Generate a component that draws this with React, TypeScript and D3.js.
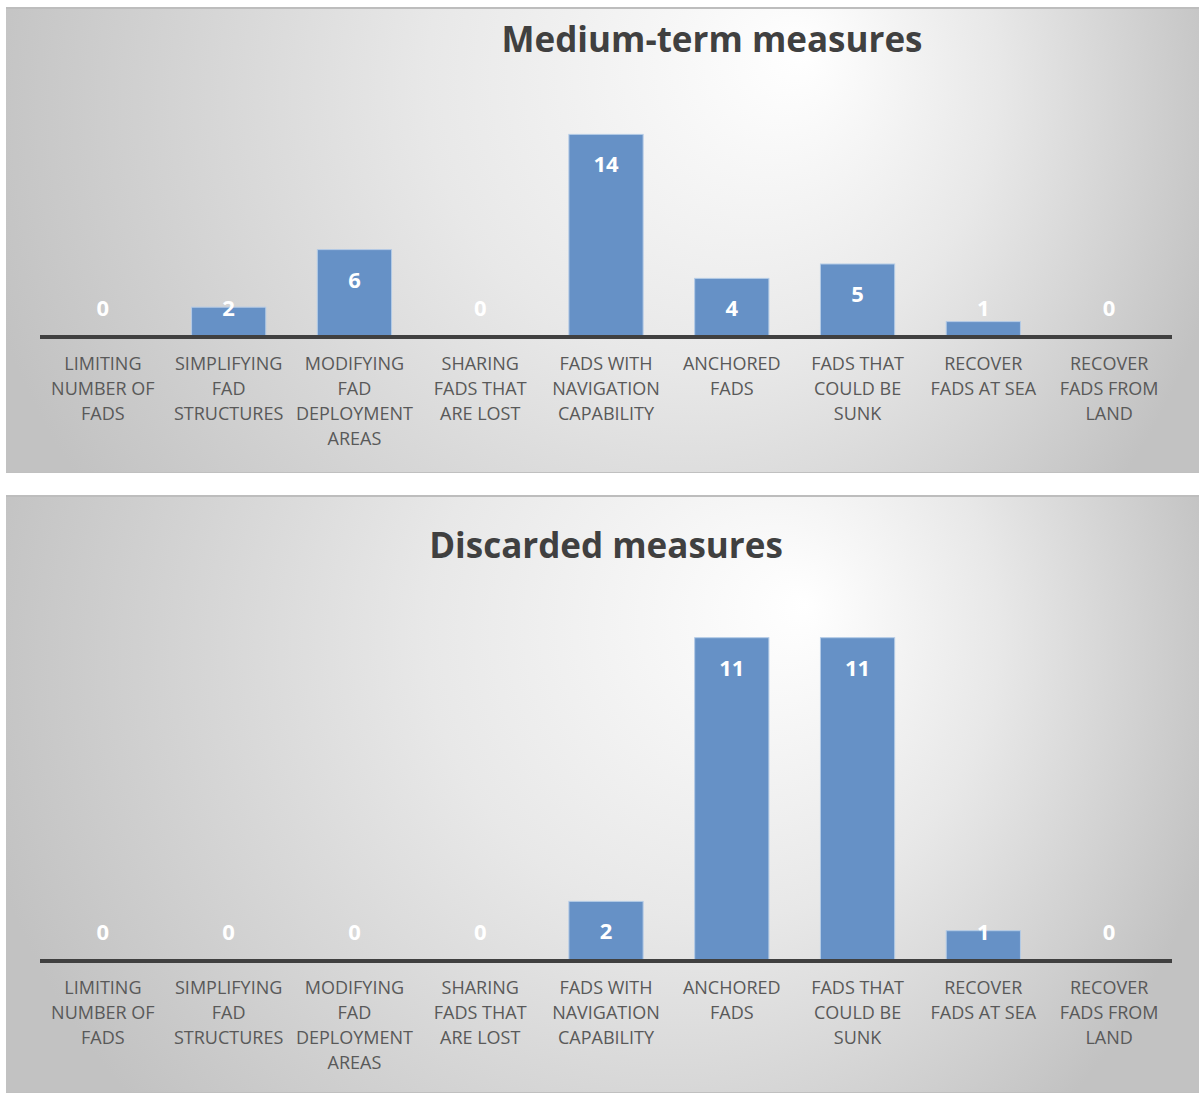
import React from "react";
import * as d3 from "d3";

// Measure names (line breaks mark where each axis label wraps)
const categories = [
  "LIMITING\nNUMBER OF\nFADS",
  "SIMPLIFYING\nFAD\nSTRUCTURES",
  "MODIFYING\nFAD\nDEPLOYMENT\nAREAS",
  "SHARING\nFADS THAT\nARE LOST",
  "FADS WITH\nNAVIGATION\nCAPABILITY",
  "ANCHORED\nFADS",
  "FADS THAT\nCOULD BE\nSUNK",
  "RECOVER\nFADS AT SEA",
  "RECOVER\nFADS FROM\nLAND",
];

const mediumTermCounts = [0, 2, 6, 0, 14, 4, 5, 1, 0];
const discardedCounts = [0, 0, 0, 0, 2, 11, 11, 1, 0];

const titles = ["Medium-term measures", "Discarded measures"];

const FONT = "'Open Sans', 'DejaVu Sans', sans-serif";

type PanelProps = {
  id: string;
  title: string;
  values: number[];
  yMax: number;
  top: number;
  height: number;
  titleX: number;
  titleY: number;
  axisY: number;
  plotTop: number;
  glowY: number;
};

function Panel({ id, title, values, yMax, top, height, titleX, titleY, axisY, plotTop, glowY }: PanelProps) {
  const left = 6;
  const width = 1193;
  const x = d3
    .scaleBand<number>()
    .domain(d3.range(categories.length))
    .range([40, 1172])
    .paddingInner(0.41)
    .paddingOuter(0.205);
  const y = d3.scaleLinear().domain([0, yMax]).range([axisY, plotTop]);

  return (
    <g>
      <defs>
        <radialGradient
          id={id}
          gradientUnits="userSpaceOnUse"
          cx={600}
          cy={top + glowY + 65}
          r={635}
          fx={805}
          fy={top + glowY}
        >
          <stop offset="0" stopColor="#ffffff" />
          <stop offset="0.45" stopColor="#e8e8e8" />
          <stop offset="1" stopColor="#c2c2c2" />
        </radialGradient>
      </defs>
      <rect x={left} y={top} width={width} height={height} fill={`url(#${id})`} />
      <rect x={left} y={top} width={width} height={2} fill="#bdbdbd" />
      <rect x={left} y={top + height - 1} width={width} height={1} fill="#c0c0c0" />
      <text
        x={titleX}
        y={titleY}
        textAnchor="middle"
        fontFamily={FONT}
        fontWeight={700}
        fontSize={35}
        fill="#404040"
      >
        {title}
      </text>
      {values.map((v, i) => {
        const bx = x(i)!;
        const by = y(v);
        return (
          <rect
            key={"b" + i}
            x={bx}
            y={by}
            width={x.bandwidth()}
            height={axisY - by}
            fill="#6691c6"
            stroke="#b4cbe6"
            strokeWidth={1}
          />
        );
      })}
      <line x1={40} x2={1172} y1={axisY + 1} y2={axisY + 1} stroke="#404040" strokeWidth={4} />
      {values.map((v, i) => {
        const cx = x(i)! + x.bandwidth() / 2;
        const baseline = Math.min(y(v) + 38, axisY - 20);
        return (
          <text
            key={"l" + i}
            x={cx}
            y={baseline}
            textAnchor="middle"
            fontFamily={FONT}
            fontWeight={700}
            fontSize={22}
            fill="#ffffff"
          >
            {v}
          </text>
        );
      })}
      {categories.map((c, i) => {
        const cx = x(i)! + x.bandwidth() / 2;
        return (
          <text
            key={"c" + i}
            x={cx}
            y={axisY + 34}
            textAnchor="middle"
            fontFamily={FONT}
            fontSize={18}
            fill="#595959"
          >
            {c.split("\n").map((line, k) => (
              <tspan key={k} x={cx} dy={k === 0 ? 0 : 25}>
                {line}
              </tspan>
            ))}
          </text>
        );
      })}
    </g>
  );
}

export default function App() {
  return (
    <svg
      width={1201}
      height={1093}
      style={{ position: "absolute", left: 0, top: 0, background: "#ffffff" }}
    >
      <Panel
        id="bgTop"
        title={titles[0]}
        values={mediumTermCounts}
        yMax={16}
        top={7}
        height={466}
        titleX={712}
        titleY={52}
        axisY={336}
        plotTop={105.6}
        glowY={45}
      />
      <Panel
        id="bgBottom"
        title={titles[1]}
        values={discardedCounts}
        yMax={12}
        top={495}
        height={598}
        titleX={606}
        titleY={558}
        axisY={960}
        plotTop={608.4}
        glowY={110}
      />
    </svg>
  );
}
